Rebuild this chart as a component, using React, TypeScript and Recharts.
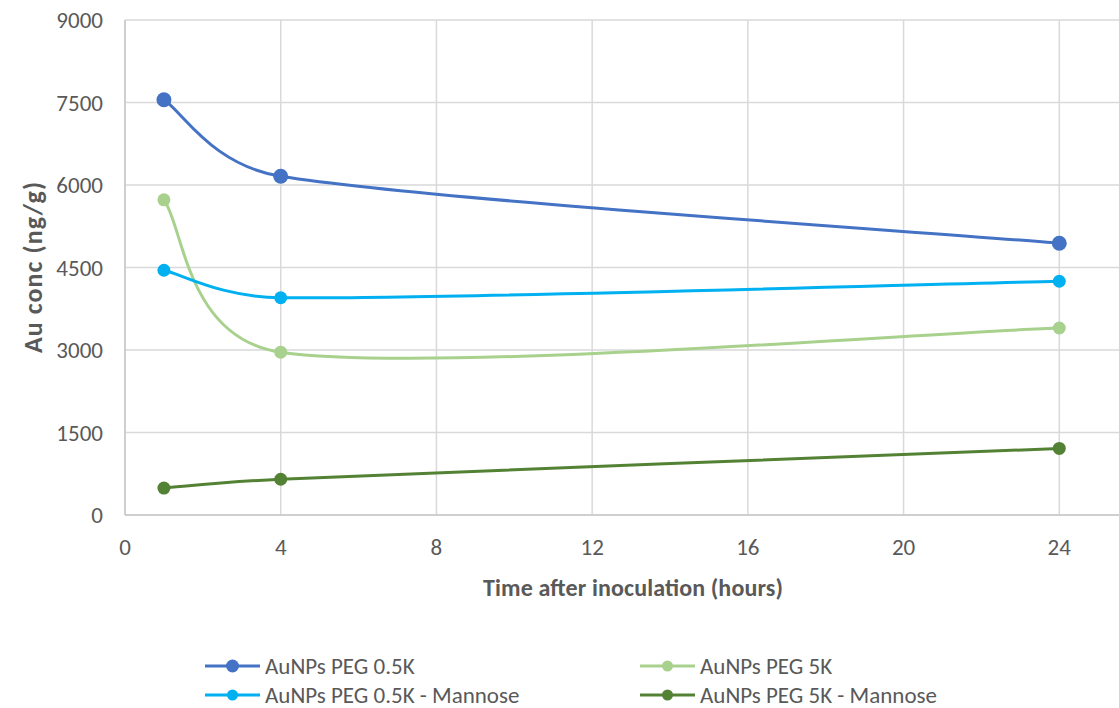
import { LineChart, Line, XAxis, YAxis, CartesianGrid, Legend } from 'recharts';

// hours after inoculation
const hours = [1, 4, 24];

// Au concentration (ng/g) per formulation
const peg05 = [7550, 6160, 4940];
const peg5 = [5730, 2960, 3400];
const peg05Mannose = [4450, 3950, 4250];
const peg5Mannose = [490, 650, 1210];

const seriesKeys = ['peg05', 'peg5', 'peg05Mannose', 'peg5Mannose'];
const seriesNames = ['AuNPs PEG 0.5K', 'AuNPs PEG 5K', 'AuNPs PEG 0.5K - Mannose', 'AuNPs PEG 5K - Mannose'];
const seriesValues = [peg05, peg5, peg05Mannose, peg5Mannose];

// the axis runs to 28 but the picture is cropped before that label
const xTicks = [0, 4, 8, 12, 16, 20, 24];
const yTicks = [0, 1500, 3000, 4500, 6000, 7500, 9000];

const colors = ['#4472C4', '#A9D18E', '#00B0F0', '#548235'];
const dotRadius = [7.5, 6.5, 6.5, 6.5];

const FONT = 'Carlito, Lato, sans-serif';
const TEXT = '#595959';

const data = hours.map((h, i) => {
  const row: Record<string, number> = { h };
  seriesKeys.forEach((k, s) => {
    row[k] = seriesValues[s][i];
  });
  return row;
});

// bezier smoothing close to the office "smoothed line" option:
// catmull-rom tangents (1/6), clamped to half the segment length
class ExcelSmooth {
  _ctx: any;
  _pts: number[][] = [];
  _line = NaN;
  constructor(ctx: any) {
    this._ctx = ctx;
  }
  areaStart() {
    this._line = 0;
  }
  areaEnd() {
    this._line = NaN;
  }
  lineStart() {
    this._pts = [];
  }
  point(x: number, y: number) {
    this._pts.push([+x, +y]);
  }
  lineEnd() {
    const p = this._pts;
    const n = p.length;
    const c = this._ctx;
    if (!n) return;
    if (this._line === 0) c.lineTo(p[0][0], p[0][1]);
    else c.moveTo(p[0][0], p[0][1]);
    const clamp = (vx: number, vy: number, max: number) => {
      const len = Math.hypot(vx, vy);
      if (len > max && len > 0) return [(vx * max) / len, (vy * max) / len];
      return [vx, vy];
    };
    for (let i = 0; i < n - 1; i++) {
      const a = p[Math.max(i - 1, 0)];
      const b = p[i];
      const d = p[i + 1];
      const e = p[Math.min(i + 2, n - 1)];
      const seg = Math.hypot(d[0] - b[0], d[1] - b[1]);
      const t1 = clamp((d[0] - a[0]) / 6, (d[1] - a[1]) / 6, seg / 2);
      const t2 = clamp((e[0] - b[0]) / 6, (e[1] - b[1]) / 6, seg / 2);
      c.bezierCurveTo(b[0] + t1[0], b[1] + t1[1], d[0] - t2[0], d[1] - t2[1], d[0], d[1]);
    }
  }
}
const excelSmooth: any = (ctx: any) => new ExcelSmooth(ctx);

function XTitle(props: any) {
  const vb = props.viewBox;
  return (
    <text
      x={633}
      y={vb.y + 72}
      textAnchor="middle"
      dominantBaseline="central"
      textLength={300}
      lengthAdjust="spacing"
      fill={TEXT}
      fontSize={24}
      fontWeight={700}
      fontFamily={FONT}
    >
      Time after inoculation (hours)
    </text>
  );
}

function YTitle(props: any) {
  const vb = props.viewBox;
  const cx = vb.x + 33;
  const cy = vb.y + vb.height / 2;
  return (
    <text
      x={cx}
      y={cy}
      transform={`rotate(-90 ${cx} ${cy})`}
      textAnchor="middle"
      dominantBaseline="central"
      textLength={171}
      lengthAdjust="spacing"
      fill={TEXT}
      fontSize={26}
      fontWeight={700}
      fontFamily={FONT}
    >
      Au conc (ng/g)
    </text>
  );
}

const legendCols = [205, 640];
const legendRows = [61, 90];

function ChartLegend() {
  return (
    <div style={{ position: 'relative', width: 1119, height: 103 }}>
      {seriesNames.map((name, i) => (
        <div
          key={name}
          style={{
            position: 'absolute',
            left: legendCols[i % 2],
            top: legendRows[Math.floor(i / 2)] - 14,
            height: 28,
            display: 'flex',
            alignItems: 'center',
            whiteSpace: 'nowrap',
          }}
        >
          <svg width={55} height={16} style={{ display: 'block' }}>
            <line x1={0} y1={8} x2={55} y2={8} stroke={colors[i]} strokeWidth={3} />
            <circle cx={27.5} cy={8} r={dotRadius[i] - 1} fill={colors[i]} />
          </svg>
          <span style={{ marginLeft: 5, fontFamily: FONT, fontSize: 23, color: TEXT }}>{name}</span>
        </div>
      ))}
    </div>
  );
}

export default function App() {
  return (
    <div
      style={{
        position: 'absolute',
        left: 0,
        top: 0,
        width: 1119,
        height: 708,
        overflow: 'hidden',
        background: '#fff',
      }}
    >
      <LineChart width={1245} height={708} data={data} margin={{ top: 20, right: 30, bottom: 0, left: 0 }}>
        <CartesianGrid stroke="#D9D9D9" strokeWidth={1.5} />
        <XAxis
          dataKey="h"
          type="number"
          domain={[0, 28]}
          ticks={xTicks}
          interval={0}
          tickLine={false}
          tickSize={0}
          tickMargin={24}
          height={90}
          axisLine={{ stroke: '#C8C8C8', strokeWidth: 1.5 }}
          tick={{ fill: TEXT, fontSize: 23, fontFamily: FONT }}
          label={<XTitle />}
        />
        <YAxis
          type="number"
          domain={[0, 9000]}
          ticks={yTicks}
          interval={0}
          width={125}
          tickLine={false}
          tickSize={0}
          tickMargin={22}
          axisLine={{ stroke: '#C8C8C8', strokeWidth: 1.5 }}
          tick={{ fill: TEXT, fontSize: 23, fontFamily: FONT }}
          label={<YTitle />}
        />
        <Legend verticalAlign="bottom" align="left" wrapperStyle={{ left: 0 }} content={() => <ChartLegend />} />
        {seriesKeys.map((k, i) => (
          <Line
            key={k}
            dataKey={k}
            name={seriesNames[i]}
            type={excelSmooth}
            stroke={colors[i]}
            strokeWidth={3}
            dot={{ r: dotRadius[i], fill: colors[i], stroke: colors[i], strokeWidth: 0 }}
            activeDot={false}
            isAnimationActive={false}
          />
        ))}
      </LineChart>
    </div>
  );
}
